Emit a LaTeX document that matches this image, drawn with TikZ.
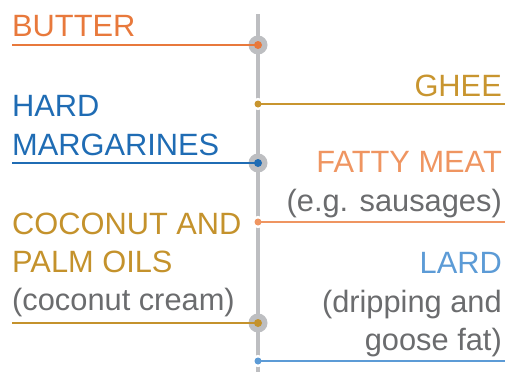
\documentclass[tikz,border=0pt]{standalone}
\usepackage{fontspec}
\setmainfont{Liberation Sans}
\definecolor{axisgrey}{HTML}{BDBEC1}
\definecolor{notegrey}{HTML}{6B6C6E}
\definecolor{butterorange}{HTML}{E8793C}
\definecolor{margblue}{HTML}{1F6CB4}
\definecolor{gheegold}{HTML}{C8952F}
\definecolor{meatorange}{HTML}{EF9561}
\definecolor{cocogold}{HTML}{C4922C}
\definecolor{lardblue}{HTML}{5C9BD6}

\tikzset{
  axis/.style={axisgrey,line width=4.5pt},
  fatline/.style={line width=2.5pt},
  label/.style={inner sep=0pt,font=\fontsize{30.8}{39}\selectfont},
  leftlabel/.style={label,anchor=base west},
  rightlabel/.style={label,anchor=base east}
}

\begin{document}
\begin{tikzpicture}[x=1pt,y=-1pt]
		\useasboundingbox (0,0) rectangle (506,372);
		% time line
		\coordinate (top) at (258,14);
		\coordinate (bottom) at (258,372);
		\draw[axis] (top) -- (bottom);
		% left side
		\coordinate (butterend) at (12,45);
		\coordinate (butterdot) at (258,45);
		\coordinate (margend) at (12,163);
		\coordinate (margdot) at (258,163);
		\coordinate (cocoend) at (12,323);
		\coordinate (cocodot) at (258,323);
		\node[leftlabel,butterorange] (butter) at (12,36) {BUTTER};
		\node[leftlabel,margblue] (hard) at (12,116) {HARD};
		\node[leftlabel,margblue] (margarines) at (12,155) {MARGARINES};
		\node[leftlabel,cocogold] (coconut) at (12,234) {COCONUT AND};
		\node[leftlabel,cocogold] (palm) at (12,272) {PALM OILS};
		\node[leftlabel,notegrey] (cream) at (12,310) {(coconut cream)};
		\fill[axisgrey] (butterdot) circle (9.5);
		\fill[axisgrey] (margdot) circle (9.5);
		\fill[axisgrey] (cocodot) circle (9.5);
		\draw[fatline,butterorange] (butterend) -- (butterdot);
		\draw[fatline,margblue] (margend) -- (margdot);
		\draw[fatline,cocogold] (cocoend) -- (cocodot);
		\fill[butterorange] (butterdot) circle (4);
		\fill[margblue] (margdot) circle (4);
		\fill[cocogold] (cocodot) circle (4);
		% right side
		\coordinate (gheedot) at (258,104);
		\coordinate (gheeend) at (505,104);
		\coordinate (meatdot) at (258,222);
		\coordinate (meatend) at (505,222);
		\coordinate (larddot) at (258,361);
		\coordinate (lardend) at (505,361);
		\node[rightlabel,gheegold] (ghee) at (502,96) {GHEE};
		\node[rightlabel,meatorange] (meat) at (502,172) {FATTY MEAT};
		\node[rightlabel,notegrey] (sausages) at (502,211) {(e.g. sausages)};
		\node[rightlabel,lardblue] (lard) at (502,273) {LARD};
		\node[rightlabel,notegrey] (dripping) at (502,312) {(dripping and};
		\node[rightlabel,notegrey] (goose) at (502,350) {goose fat)};
		\fill[white] (gheedot) circle (6);
		\fill[white] (meatdot) circle (6);
		\fill[white] (larddot) circle (6);
		\draw[fatline,gheegold] (gheedot) -- (gheeend);
		\draw[fatline,meatorange] (meatdot) -- (meatend);
		\draw[fatline,lardblue] (larddot) -- (lardend);
		\fill[gheegold] (gheedot) circle (3.5);
		\fill[meatorange] (meatdot) circle (3.5);
		\fill[lardblue] (larddot) circle (3.5);
	\end{tikzpicture}
\end{document}
